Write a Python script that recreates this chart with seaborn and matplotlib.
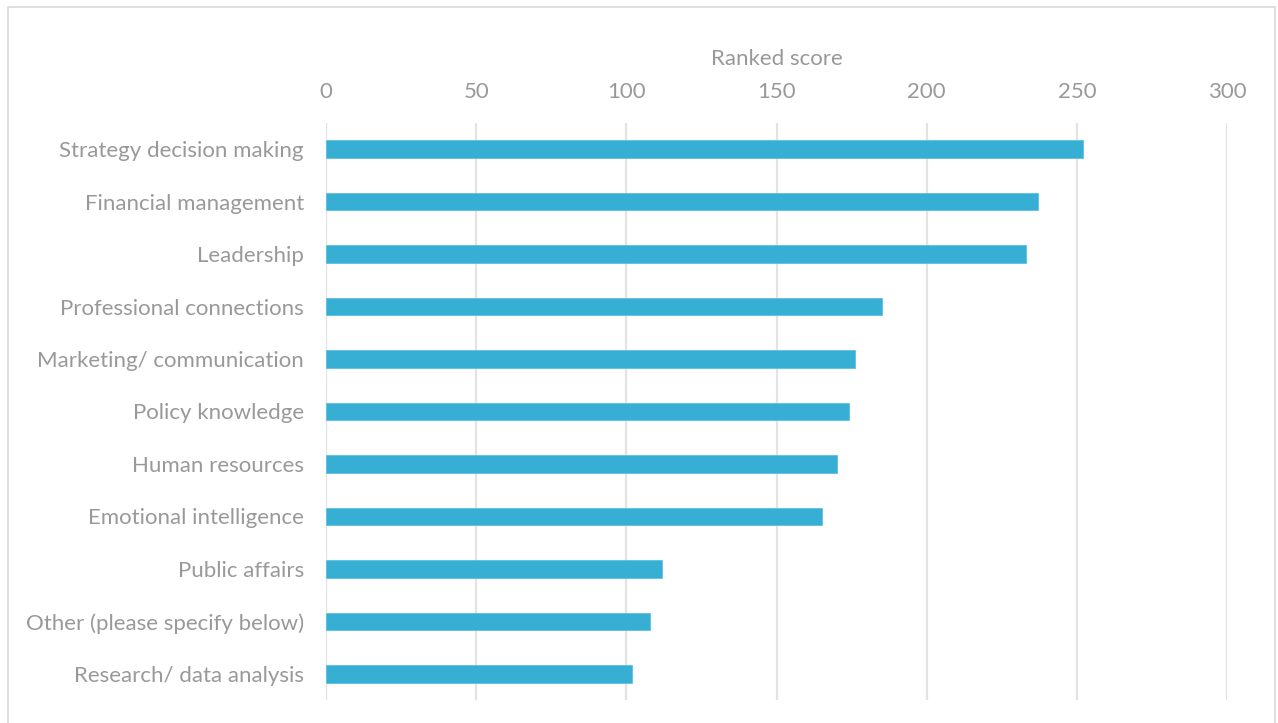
import matplotlib
matplotlib.use("Agg")
import matplotlib.pyplot as plt
import seaborn as sns
import pandas as pd
from matplotlib.patches import Rectangle

categories = [
    "Strategy decision making",
    "Financial management",
    "Leadership",
    "Professional connections",
    "Marketing/ communication",
    "Policy knowledge",
    "Human resources",
    "Emotional intelligence",
    "Public affairs",
    "Other (please specify below)",
    "Research/ data analysis",
]
scores = [252, 237, 233, 185, 176, 174, 170, 165, 112, 108, 102]
x_ticks = [0, 50, 100, 150, 200, 250, 300]

df = pd.DataFrame({"skill": categories, "score": scores})

sns.set_theme(style="white")
plt.rcParams["font.family"] = ["Lato", "DejaVu Sans"]

text_color = "#999999"
grid_color = "#E3E3E3"
bar_color = "#37AED3"
font_size = 16

fig = plt.figure(figsize=(12.78, 7.23), dpi=100)
ax = fig.add_axes([0.2551, 0.0315, 0.9601 - 0.2551, 0.8302 - 0.0315])

sns.barplot(data=df, x="score", y="skill", orient="h", color=bar_color,
            width=0.34, saturation=1, ax=ax, edgecolor="#5CC0E0", linewidth=0.6,
            zorder=3)

ax.set_xlim(0, 300)
ax.set_ylim(10.5, -0.5)
ax.set_xticks(x_ticks)
ax.xaxis.tick_top()
ax.xaxis.set_label_position("top")
ax.set_xlabel("Ranked score", color=text_color, fontsize=font_size, labelpad=12)
ax.set_ylabel("")
ax.tick_params(axis="both", length=0, colors=text_color, labelsize=font_size)
ax.tick_params(axis="x", pad=15)
ax.tick_params(axis="y", pad=16)
ax.grid(axis="x", color=grid_color, linewidth=1.6, zorder=0)
ax.grid(axis="y", visible=False)
for s in ax.spines.values():
    s.set_visible(False)

# chart-area frame
fig.patches.append(Rectangle((8 / 1278, -0.01), (1275 - 8) / 1278, 1 - 7 / 723 + 0.01,
                             transform=fig.transFigure, fill=False,
                             edgecolor="#D9D9D9", linewidth=1.2))

fig.savefig("out.png", dpi=100)
